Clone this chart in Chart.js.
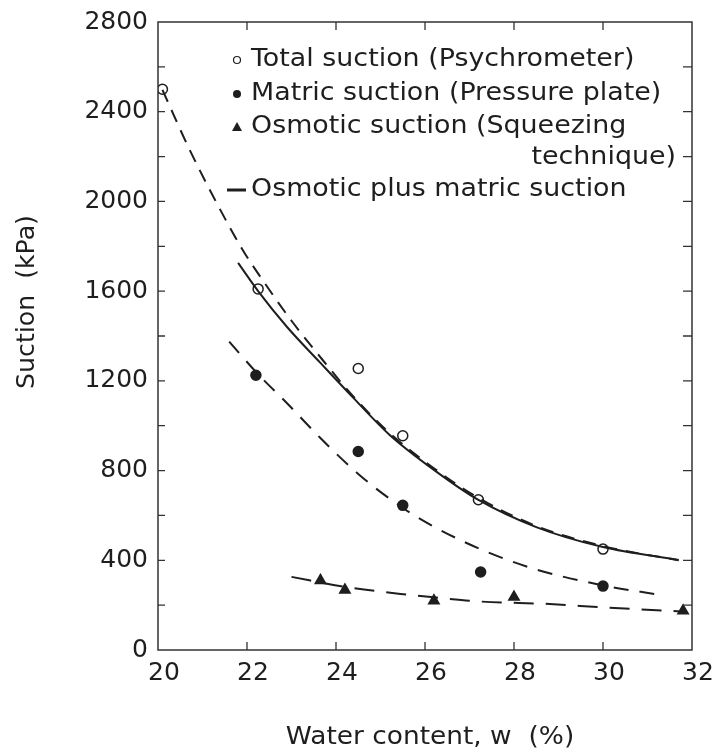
<!DOCTYPE html>
<html>
<head>
<meta charset="utf-8">
<script src="https://cdn.jsdelivr.net/npm/chart.js@4"></script>
<style>
  html, body { margin: 0; padding: 0; background: #fff; }
  #wrap { width: 712px; height: 755px; }
</style>
</head>
<body>
<div id="wrap"><canvas id="suctionChart" width="712" height="755"></canvas></div>
<script>
// measured points
const totalW = [20.1, 22.25, 24.5, 25.5, 27.2, 30.0];
const totalS = [2500, 1610, 1255, 955, 670, 450];
const matricW = [22.2, 24.5, 25.5, 27.25, 30.0];
const matricS = [1225, 885, 645, 348, 285];
const osmoticW = [23.65, 24.2, 26.2, 28.0, 31.8];
const osmoticS = [310, 268, 220, 236, 175];

// curves
const totalFitW = [20.1, 20.7, 21.3, 21.9, 22.4, 23.0, 23.7, 24.4, 25.2, 26.2, 27.2, 28.5, 30.0, 31.7];
const totalFitS = [2497, 2235, 2000, 1785, 1635, 1468, 1293, 1128, 968, 810, 678, 553, 463, 400];
const sumFitW = [21.8, 22.25, 22.9, 23.65, 24.4, 25.2, 26.2, 27.2, 28.5, 30.0, 31.7];
const sumFitS = [1726, 1600, 1440, 1280, 1122, 960, 803, 669, 548, 459, 401];
const matricFitW = [21.6, 22.2, 22.9, 23.65, 24.5, 25.45, 26.2, 27.3, 28.45, 29.95, 31.3];
const matricFitS = [1375, 1240, 1100, 945, 785, 640, 550, 445, 362, 290, 245];
const osmoticFitW = [23.0, 24.2, 25.45, 26.2, 27.25, 28.8, 30.0, 31.75];
const osmoticFitS = [326, 282, 250, 235, 216, 205, 190, 172];

const xTicks = [20, 22, 24, 26, 28, 30, 32];
const yLabelStep = 400;

const legendRows = [
    { marker: 'open', text: 'Total suction (Psychrometer)' },
    { marker: 'dot', text: 'Matric suction (Pressure plate)' },
    { marker: 'tri', text: 'Osmotic suction (Squeezing' },
    { marker: null, text: 'technique)', right: true },
    { marker: 'dash', text: 'Osmotic plus matric suction' }
];

const ink = '#1e1e1e';
const FONT = '"DejaVu Sans", sans-serif';

function pts(xs, ys) {
    return xs.map((x, i) => ({ x: x, y: ys[i] }));
}

function curve(xs, ys, dash) {
    return {
        data: pts(xs, ys),
        showLine: true,
        borderColor: ink,
        borderWidth: 2,
        borderDash: dash,
        pointRadius: 0,
        cubicInterpolationMode: 'monotone',
        fill: false
    };
}

function marks(xs, ys, style, filled, r) {
    return {
        data: pts(xs, ys),
        showLine: false,
        pointStyle: style,
        pointRadius: r,
        pointBorderWidth: 1.5,
        pointBorderColor: ink,
        pointBackgroundColor: filled ? ink : '#fff'
    };
}

function scaledText(ctx, text, x, y, sx, align) {
    ctx.save();
    ctx.translate(x, y);
    ctx.scale(sx, 1);
    ctx.textAlign = align || 'left';
    ctx.fillText(text, 0, 0);
    ctx.restore();
}

const framePlugin = {
    id: 'frame',
    afterDatasetsDraw(chart) {
        const { ctx, chartArea: a, scales } = chart;
        ctx.save();
        ctx.strokeStyle = '#333';
        ctx.lineWidth = 1.5;
        ctx.strokeRect(a.left, a.top, a.right - a.left, a.bottom - a.top);

        // inward ticks
        ctx.lineWidth = 1.3;
        ctx.beginPath();
        scales.y.ticks.forEach(t => {
            if (t.value <= scales.y.min || t.value >= scales.y.max) return;
            const py = scales.y.getPixelForValue(t.value);
            ctx.moveTo(a.left, py); ctx.lineTo(a.left + 7, py);
            ctx.moveTo(a.right, py); ctx.lineTo(a.right - 9, py);
        });
        scales.x.ticks.forEach(t => {
            if (t.value <= scales.x.min || t.value >= scales.x.max) return;
            const px = scales.x.getPixelForValue(t.value);
            ctx.moveTo(px, a.bottom); ctx.lineTo(px, a.bottom - 8);
            ctx.moveTo(px, a.top); ctx.lineTo(px, a.top + 8);
        });
        ctx.stroke();
        ctx.restore();
    }
};

const legendPlugin = {
    id: 'customLegend',
    afterDraw(chart) {
        const ctx = chart.ctx;
        const mx = 237, tx = 251, rightEdge = 676;
        const rowY = [60, 94, 127, 158, 190];
        ctx.save();
        ctx.fillStyle = ink;
        ctx.strokeStyle = ink;
        ctx.font = '24px ' + FONT;
        ctx.textBaseline = 'middle';
        legendRows.forEach((row, i) => {
            const y = rowY[i];
            if (row.marker === 'open') {
                ctx.lineWidth = 1.2;
                ctx.beginPath(); ctx.arc(mx, y, 3.5, 0, Math.PI * 2); ctx.stroke();
            } else if (row.marker === 'dot') {
                ctx.beginPath(); ctx.arc(mx, y, 4, 0, Math.PI * 2); ctx.fill();
            } else if (row.marker === 'tri') {
                ctx.beginPath();
                ctx.moveTo(mx, y - 5); ctx.lineTo(mx + 5, y + 4); ctx.lineTo(mx - 5, y + 4);
                ctx.closePath(); ctx.fill();
            } else if (row.marker === 'dash') {
                ctx.lineWidth = 3;
                ctx.beginPath(); ctx.moveTo(mx - 10, y); ctx.lineTo(mx + 9, y); ctx.stroke();
            }
            if (row.right) scaledText(ctx, row.text, rightEdge, y, 1.12, 'right');
            else scaledText(ctx, row.text, tx, y, 1.12, 'left');
        });

        // axis titles
        ctx.font = '24px ' + FONT;
        ctx.textBaseline = 'middle';
        scaledText(ctx, 'Water content, w  (%)', 430, 738, 1.1, 'center');
        ctx.save();
        ctx.translate(28, 302);
        ctx.rotate(-Math.PI / 2);
        ctx.scale(1.05, 1);
        ctx.textAlign = 'center';
        ctx.fillText('Suction  (kPa)', 0, 0);
        ctx.restore();
        ctx.restore();
    }
};

function initializeChart() {
    const ctx = document.getElementById('suctionChart').getContext('2d');
    new Chart(ctx, {
        type: 'scatter',
        data: {
            datasets: [
                curve(totalFitW, totalFitS, [13, 9]),
                curve(sumFitW, sumFitS, []),
                curve(matricFitW, matricFitS, [15, 11]),
                curve(osmoticFitW, osmoticFitS, [20, 12]),
                marks(totalW, totalS, 'circle', false, 5),
                marks(matricW, matricS, 'circle', true, 5),
                marks(osmoticW, osmoticS, 'triangle', true, 6)
            ]
        },
        options: {
            responsive: false,
            animation: false,
            events: [],
            layout: { padding: { top: 22, right: 20, left: 0, bottom: 0 } },
            plugins: {
                legend: { display: false },
                tooltip: { enabled: false }
            },
            scales: {
                x: {
                    type: 'linear',
                    min: 20,
                    max: 32,
                    afterBuildTicks: scale => { scale.ticks = xTicks.map(v => ({ value: v })); },
                    afterFit: scale => {
                        scale.height = 105;
                        scale.paddingLeft = 0;
                        scale.paddingRight = 0;
                    },
                    grid: { display: false, drawTicks: false },
                    border: { display: false },
                    ticks: {
                        color: ink,
                        font: { family: FONT, size: 25 },
                        padding: 8,
                        labelOffset: 6,
                        maxRotation: 0
                    }
                },
                y: {
                    type: 'linear',
                    min: 0,
                    max: 2800,
                    afterFit: scale => {
                        scale.width = 158;
                        scale.paddingTop = 0;
                        scale.paddingBottom = 0;
                    },
                    grid: { display: false, drawTicks: false },
                    border: { display: false },
                    ticks: {
                        stepSize: 200,
                        color: ink,
                        font: { family: FONT, size: 25 },
                        padding: 10,
                        autoSkip: false,
                        callback: v => (v % yLabelStep === 0 ? String(v) : '')
                    }
                }
            }
        },
        plugins: [framePlugin, legendPlugin]
    });
}

document.addEventListener('DOMContentLoaded', initializeChart);
</script>
</body>
</html>
